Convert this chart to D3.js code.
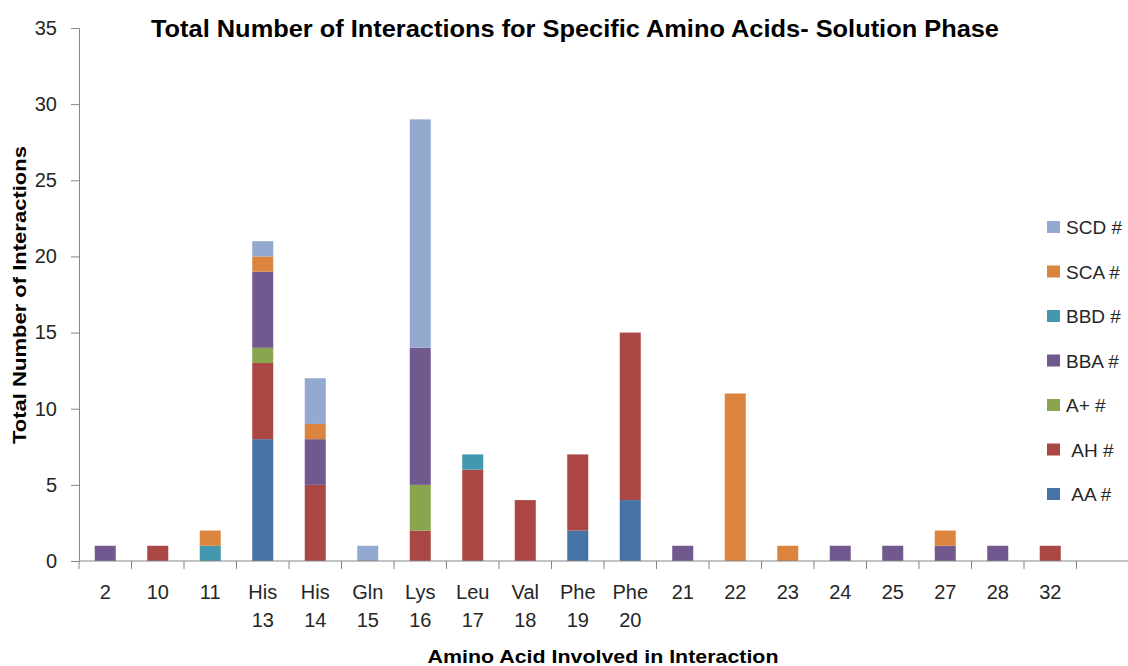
<!DOCTYPE html>
<html>
<head>
<meta charset="utf-8">
<script src="https://cdn.jsdelivr.net/npm/d3@7"></script>
<style>
  html, body { margin: 0; padding: 0; background: #fff; }
  svg { display: block; font-family: "Liberation Sans", Arial, sans-serif; }
</style>
</head>
<body>
<svg id="chart" width="1128" height="666"></svg>
<script>
// Residues on the x axis (two-line labels split on "\n"); the last slot is left empty
const categories = ["2", "10", "11", "His\n13", "His\n14", "Gln\n15", "Lys\n16", "Leu\n17", "Val\n18",
  "Phe\n19", "Phe\n20", "21", "22", "23", "24", "25", "27", "28", "32", ""];

// Interaction counts per type, one value per residue
const AA  = [0, 0, 0, 8, 0, 0, 0, 0, 0, 2, 4, 0, 0, 0, 0, 0, 0, 0, 0, 0];
const AH  = [0, 1, 0, 5, 5, 0, 2, 6, 4, 5, 11, 0, 0, 0, 0, 0, 0, 0, 1, 0];
const Aplus = [0, 0, 0, 1, 0, 0, 3, 0, 0, 0, 0, 0, 0, 0, 0, 0, 0, 0, 0, 0];
const BBA = [1, 0, 0, 5, 3, 0, 9, 0, 0, 0, 0, 1, 0, 0, 1, 1, 1, 1, 0, 0];
const BBD = [0, 0, 1, 0, 0, 0, 0, 1, 0, 0, 0, 0, 0, 0, 0, 0, 0, 0, 0, 0];
const SCA = [0, 0, 1, 1, 1, 0, 0, 0, 0, 0, 0, 0, 11, 1, 0, 0, 1, 0, 0, 0];
const SCD = [0, 0, 0, 1, 3, 1, 15, 0, 0, 0, 0, 0, 0, 0, 0, 0, 0, 0, 0, 0];

const seriesNames = ["AA #", "AH #", "A+ #", "BBA #", "BBD #", "SCA #", "SCD #"];
const seriesValues = [AA, AH, Aplus, BBA, BBD, SCA, SCD];
const yTicks = [0, 5, 10, 15, 20, 25, 30, 35];

const colors = ["#4572A7", "#AA4643", "#89A54E", "#71588F", "#4198AF", "#DB843D", "#93A9CF"];
// Legend labels as shown (the two bottom entries carry a leading space)
const legendLabels = ["\u00A0AA #", "\u00A0AH #", "A+ #", "BBA #", "BBD #", "SCA #", "SCD #"];

const svg = d3.select("#chart");
const plotLeft = 79, plotRight = 1129, plotTop = 28, plotBottom = 561;

const x = d3.scaleBand().domain(d3.range(categories.length)).range([plotLeft, plotRight]).padding(0);
const y = d3.scaleLinear().domain([0, 35]).range([plotBottom, plotTop]);
const barW = x.bandwidth() * 0.4;

// Stack the series bottom-up in legend order
const rows = categories.map((c, i) => {
  const r = { idx: i };
  seriesNames.forEach((s, k) => r[s] = seriesValues[k][i]);
  return r;
});
const stacked = d3.stack().keys(seriesNames)(rows);

const axisColor = "#868686";
const textColor = "#262626";

// Y axis
const yAxis = svg.append("g").attr("transform", `translate(${plotLeft},0)`)
  .call(d3.axisLeft(y).tickValues(yTicks).tickSize(8).tickPadding(14).tickFormat(d3.format("d")));
yAxis.select(".domain").attr("stroke", axisColor);
yAxis.selectAll(".tick line").attr("stroke", axisColor);
yAxis.selectAll(".tick text").attr("fill", textColor).attr("font-size", 20)
  .attr("font-family", "Liberation Sans, Arial, sans-serif");

// Bars
svg.append("g").selectAll("g").data(stacked).join("g")
  .attr("fill", (d, k) => colors[k])
  .selectAll("rect").data(d => d.filter(p => p[1] - p[0] > 0)).join("rect")
  .attr("x", p => x(p.data.idx) + (x.bandwidth() - barW) / 2)
  .attr("width", barW)
  .attr("y", p => y(p[1]))
  .attr("height", p => y(p[0]) - y(p[1]));

// X axis: line, boundary ticks, centred labels
const xg = svg.append("g");
xg.append("line").attr("x1", plotLeft).attr("x2", plotRight).attr("y1", plotBottom).attr("y2", plotBottom)
  .attr("stroke", axisColor);
xg.selectAll("line.tk").data(d3.range(categories.length + 1)).join("line").attr("class", "tk")
  .attr("x1", i => i < categories.length ? x(i) : plotRight)
  .attr("x2", i => i < categories.length ? x(i) : plotRight)
  .attr("y1", plotBottom).attr("y2", plotBottom + 8).attr("stroke", axisColor);
xg.selectAll("text").data(categories).join("text")
  .attr("x", (c, i) => x(i) + x.bandwidth() / 2)
  .attr("y", plotBottom + 38)
  .attr("text-anchor", "middle").attr("font-size", 20).attr("fill", textColor)
  .each(function (c) {
    const lines = c.split("\n");
    d3.select(this).selectAll("tspan").data(lines).join("tspan")
      .attr("x", d3.select(this).attr("x"))
      .attr("dy", (l, j) => j === 0 ? 0 : 28)
      .text(l => l);
  });

// Title and axis titles
svg.append("text").attr("x", 575).attr("y", 37).attr("text-anchor", "middle")
  .attr("font-size", 23).attr("font-weight", "bold").attr("fill", "#000")
  .attr("textLength", 848).attr("lengthAdjust", "spacingAndGlyphs")
  .text("Total Number of Interactions for Specific Amino Acids- Solution Phase");

svg.append("text").attr("x", 603).attr("y", 663).attr("text-anchor", "middle")
  .attr("font-size", 19).attr("font-weight", "bold").attr("fill", "#000")
  .attr("textLength", 351).attr("lengthAdjust", "spacingAndGlyphs")
  .text("Amino Acid Involved in Interaction");

svg.append("text").attr("transform", "translate(26,295) rotate(-90)").attr("text-anchor", "middle")
  .attr("font-size", 19).attr("font-weight", "bold").attr("fill", "#000")
  .attr("textLength", 298).attr("lengthAdjust", "spacingAndGlyphs")
  .text("Total Number of Interactions");

// Legend, top entry is the last series
const legend = svg.append("g");
const order = d3.range(seriesNames.length).reverse();
const lg = legend.selectAll("g").data(order).join("g")
  .attr("transform", (k, j) => `translate(1047,${227 + j * 44.5})`);
lg.append("rect").attr("x", 0).attr("y", -6).attr("width", 13).attr("height", 12)
  .attr("fill", k => colors[k]);
lg.append("text").attr("x", 19).attr("y", 7).attr("font-size", 19).attr("fill", textColor)
  .text(k => legendLabels[k]);
</script>
</body>
</html>
